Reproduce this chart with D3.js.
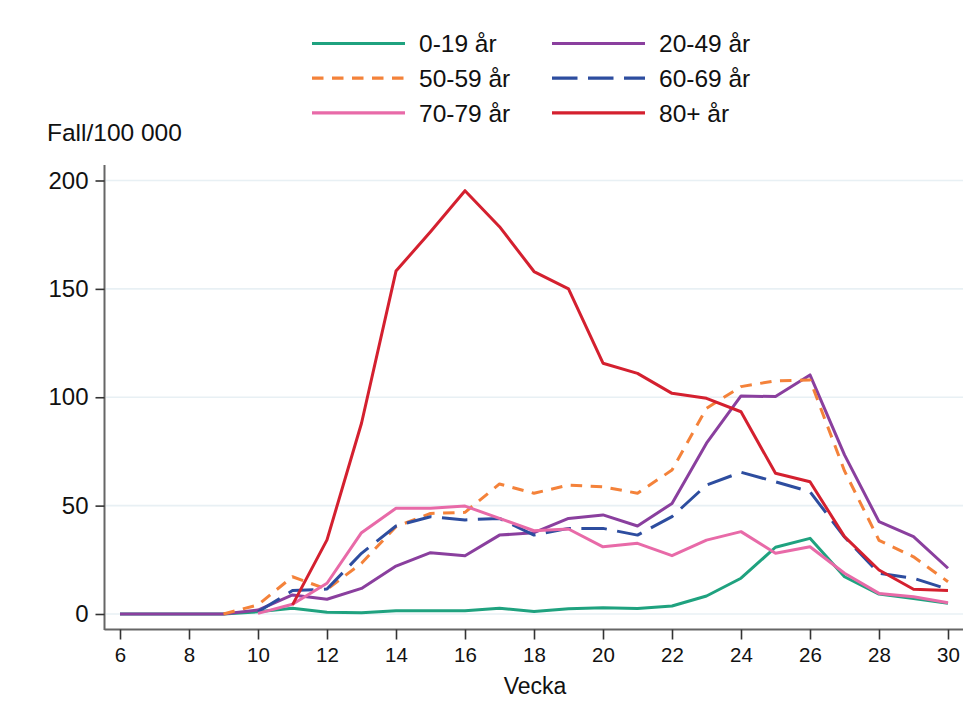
<!DOCTYPE html>
<html><head><meta charset="utf-8">
<script src="https://cdn.jsdelivr.net/npm/d3@7"></script>
<style>body{margin:0;background:#fff;} svg{display:block;font-family:"Liberation Sans",Arial,sans-serif;}</style>
</head><body>
<svg id="c" width="976" height="715"></svg>
<script>
const weeks = [6,7,8,9,10,11,12,13,14,15,16,17,18,19,20,21,22,23,24,25,26,27,28,29,30];
const xTicks = [6,8,10,12,14,16,18,20,22,24,26,28,30];
const yTicks = [0,50,100,150,200];
const seriesNames = ["0-19 år","20-49 år","50-59 år","60-69 år","70-79 år","80+ år"];
// values by week; null = no data
const v0_19  = [0,0,0,0,1,2.6,0.8,0.6,1.5,1.5,1.5,2.6,1.2,2.4,2.9,2.5,3.7,8.3,16.5,30.8,34.9,17.2,9.2,7.2,4.9];
const v20_49 = [0,0,0,0,1.8,8.8,6.8,11.8,22.1,28.3,26.9,36.4,37.5,44.1,45.7,40.6,51,78.8,100.6,100.3,110.3,73.4,42.6,35.7,21.1];
const v50_59 = [null,null,null,0,4.2,17.2,11.4,23.4,40.3,46.4,46.9,60,55.7,59.5,58.7,55.7,66.4,94.9,104.9,107.6,108,66,34,26.4,14.9];
const v60_69 = [null,null,null,null,1,10.8,11.5,28,40.6,44.9,43.4,44.1,36.4,39.5,39.5,36.4,44.9,59.5,65.4,61,56.4,35.5,18.8,16.5,11.4];
const v70_79 = [null,null,null,null,0.3,4.5,14.2,37.5,48.8,48.8,49.8,44.1,38.4,39.2,31,32.6,26.9,34.1,38,28,31,18.8,9.5,8,5.2];
const v80    = [null,null,null,null,null,4.2,34.2,88,158.2,176.4,195.3,178.7,158,150,115.7,111,101.8,99.5,93.3,64.9,61,35.7,20.3,11.4,10.8];
const seriesValues = [v0_19,v20_49,v50_59,v60_69,v70_79,v80];
const colors = ["#1fa27f","#8a3f9e","#f4823a","#2d4d9f","#e86aa8","#d4202f"];
const dashes = [null,null,"11.5,8.5","25.5,10.5",null,null];

const svg = d3.select("#c");
const x = d3.scaleLinear().domain([6,30]).range([120,948]);
const y = d3.scaleLinear().domain([0,200]).range([614,180.5]);

// gridlines
svg.append("g").selectAll("line").data(yTicks).join("line")
  .attr("x1",106).attr("x2",963).attr("y1",d=>y(d)).attr("y2",d=>y(d))
  .attr("stroke","#e8f0f4").attr("stroke-width",1.6);

// x axis
const xAxis = svg.append("g").attr("transform","translate(0,629.5)")
  .call(d3.axisBottom(x).tickValues(xTicks).tickSize(10).tickPadding(8).tickFormat(d3.format("d")));
xAxis.select(".domain").attr("d","M104.5,0H963").attr("stroke","#666").attr("stroke-width",2);
xAxis.selectAll(".tick line").attr("stroke","#333").attr("stroke-width",1.6);
xAxis.selectAll("text").attr("font-size",20.5).attr("fill","#111").attr("font-family","Liberation Sans, Arial, sans-serif");

// y axis
const yAxis = svg.append("g").attr("transform","translate(104.5,0)")
  .call(d3.axisLeft(y).tickValues(yTicks).tickSize(9).tickPadding(7));
yAxis.select(".domain").attr("d","M0,165V630").attr("stroke","#666").attr("stroke-width",2);
yAxis.selectAll(".tick line").attr("stroke","#333").attr("stroke-width",1.6);
yAxis.selectAll("text").attr("font-size",24).attr("fill","#111").attr("font-family","Liberation Sans, Arial, sans-serif");

svg.append("text").attr("x",535).attr("y",694).attr("text-anchor","middle")
  .attr("font-size",23).attr("fill","#111").text("Vecka");
svg.append("text").attr("x",47).attr("y",141)
  .attr("font-size",24.5).attr("fill","#111").text("Fall/100 000");

// lines
const line = d3.line().defined(d=>d.v!==null).x(d=>x(d.w)).y(d=>y(d.v));
seriesValues.forEach((vals,i)=>{
  const data = weeks.map((w,j)=>({w:w,v:vals[j]}));
  svg.append("path").datum(data).attr("d",line)
    .attr("fill","none").attr("stroke",colors[i]).attr("stroke-width",3)
    .attr("stroke-linejoin","round")
    .attr("stroke-dasharray",dashes[i]);
});

// legend
const lg = svg.append("g");
seriesNames.forEach((name,i)=>{
  const col = i%2, row = Math.floor(i/2);
  const lx = col===0 ? 312 : 552;
  const ly = 43.5 + row*34.7;
  lg.append("line").attr("x1",lx).attr("x2",lx+93).attr("y1",ly).attr("y2",ly)
    .attr("stroke",colors[i]).attr("stroke-width",3.2)
    .attr("stroke-dasharray",dashes[i]);
  lg.append("text").attr("x",lx+107).attr("y",ly+8.8).attr("font-size",24.5).attr("fill","#111")
    .text(name);
});
</script>
</body></html>
